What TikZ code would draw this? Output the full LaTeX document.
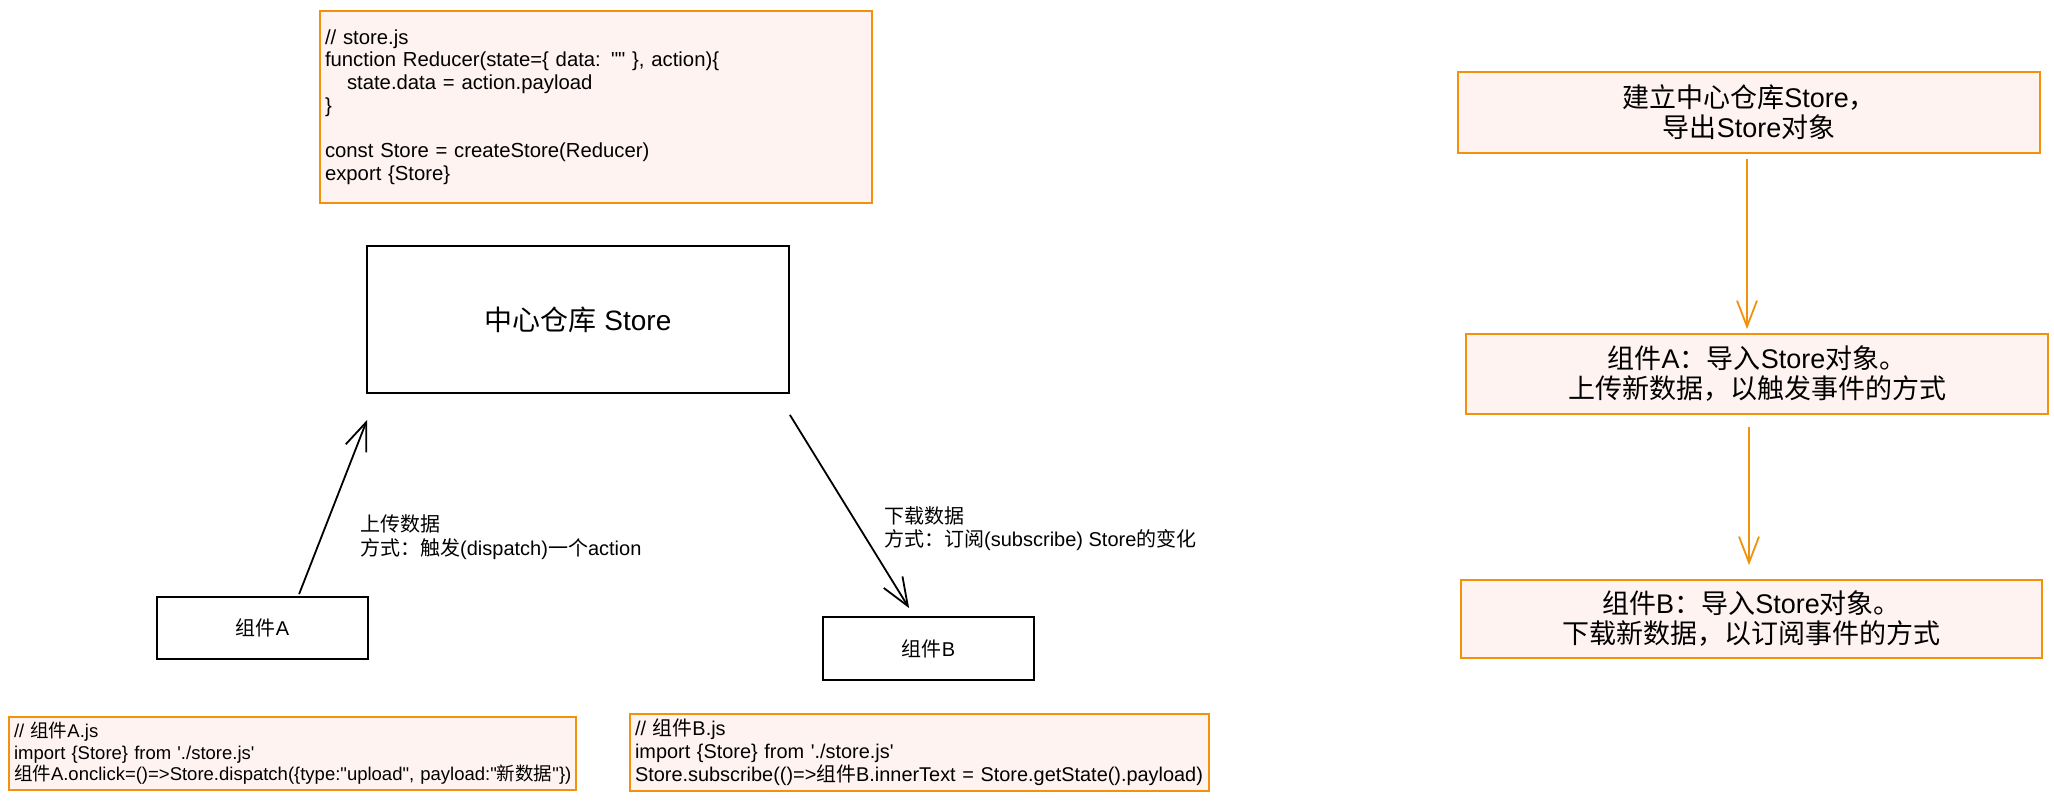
\documentclass[tikz,border=0pt]{standalone}
\usepackage{fontspec}
\setmainfont{Liberation Sans}
\newfontfamily\lat{Liberation Sans}
\newfontfamily\cjk{Noto Sans CJK SC}
\usetikzlibrary{arrows.meta,calc}
\definecolor{ornge}{RGB}{242,146,12}
\definecolor{pinkfill}{RGB}{255,243,242}
\newcommand{\zh}[1]{{\cjk #1}}
\tikzset{
 blk/.style={draw=black, line width=1.8pt, fill=white, inner sep=0pt},
 codebox/.style={draw=ornge, fill=pinkfill, line width=1.8pt, align=left, inner xsep=5pt, inner ysep=0pt, font=\lat\fontsize{20.3}{22.7}\selectfont},
 smallcode/.style={codebox, font=\lat\fontsize{18.5}{21.6}\selectfont},
 midcode/.style={codebox, font=\lat\fontsize{19.9}{23.2}\selectfont},
 flowbox/.style={draw=ornge, fill=pinkfill, line width=1.8pt, align=center, inner sep=0pt, font=\lat\fontsize{27}{30}\selectfont},
 barr/.style={draw=black, line width=1.8pt, -{Straight Barb[length=28pt,width=22pt]}},
 oarr/.style={draw=ornge, line width=1.8pt, -{Straight Barb[length=26pt,width=20pt]}},
 lbl/.style={align=left, anchor=west, inner sep=0pt, font=\lat\fontsize{20}{23.5}\selectfont},
}
\begin{document}
\begin{tikzpicture}[x=1pt,y=-1pt]
\path[use as bounding box, fill=white] (0,0) rectangle (2054,802);
% store.js code
\node[codebox, text width=542pt, minimum height=192pt] (storejs) at (596,107)
 {\mbox{// store.js}\\\mbox{function Reducer(state=\{ data: "" \}, action)\{}\\\mbox{\hspace*{22pt}state.data = action.payload}\\\}\\\mbox{}\\\mbox{const Store = createStore(Reducer)}\\\mbox{export \{Store\}}};
% center store
\node[blk, minimum width=422pt, minimum height=147pt, font=\lat\fontsize{28}{30}\selectfont] (store) at (578,319.5) {\zh{中心仓库} Store};
% components
\node[blk, minimum width=211pt, minimum height=62pt, font=\lat\fontsize{20}{22}\selectfont] (cA) at (262.5,628) {\zh{组件}A};
\node[blk, minimum width=211pt, minimum height=63pt, font=\lat\fontsize{20}{22}\selectfont] (cB) at (928.5,648.5) {\zh{组件}B};
% arrows
\coordinate (aS) at ($(cA.north west)+(143,-2)$);
\coordinate (aE) at ($(store.south west)+(1,26)$);
\draw[barr] (aS) -- (aE);
\coordinate (bS) at ($(store.south east)+(0,21)$);
\coordinate (bE) at ($(cB.north west)+(87,-8)$);
\draw[barr] (bS) -- (bE);
% labels
\node[lbl] (labA) at (360,537) {\zh{上传数据}\\\zh{方式：触发}(dispatch)\zh{一个}action};
\node[lbl] (labB) at (884,528.5) {\zh{下载数据}\\\zh{方式：订阅}(subscribe) Store\zh{的变化}};
% code A, B
\node[smallcode, text width=557pt, minimum height=73pt] (codeA) at (292.5,753.5)
 {\mbox{// \zh{组件}A.js}\\\mbox{import \{Store\} from './store.js'}\\\mbox{\zh{组件}A.onclick=()=>Store.dispatch(\{type:"upload", payload:"\zh{新数据}"\})}};
\node[midcode, text width=569pt, minimum height=77pt] (codeB) at (919.5,752.5)
 {\mbox{// \zh{组件}B.js}\\\mbox{import \{Store\} from './store.js'}\\\mbox{Store.subscribe(()=>\zh{组件}B.innerText = Store.getState().payload)}};
% right flow
\node[flowbox, minimum width=582pt, minimum height=81pt] (R1) at (1749,112.5) {\zh{建立中心仓库}Store\zh{，}\\\zh{导出}Store\zh{对象}};
\node[flowbox, minimum width=582pt, minimum height=80pt] (R2) at (1757,374) {\zh{组件}A\zh{：导入}Store\zh{对象。}\\\zh{上传新数据，以触发事件的方式}};
\node[flowbox, minimum width=581pt, minimum height=78pt] (R3) at (1751.5,619) {\zh{组件}B\zh{：导入}Store\zh{对象。}\\\zh{下载新数据，以订阅事件的方式}};
\coordinate (o1s) at ($(R1.south)+(-2,5)$);
\coordinate (o1e) at ($(o1s |- R2.north)+(0,-4)$);
\draw[oarr] (o1s) -- (o1e);
\coordinate (o2s) at ($(R2.south)+(-8,12)$);
\coordinate (o2e) at ($(o2s |- R3.north)+(0,-14)$);
\draw[oarr] (o2s) -- (o2e);
\end{tikzpicture}
\end{document}
